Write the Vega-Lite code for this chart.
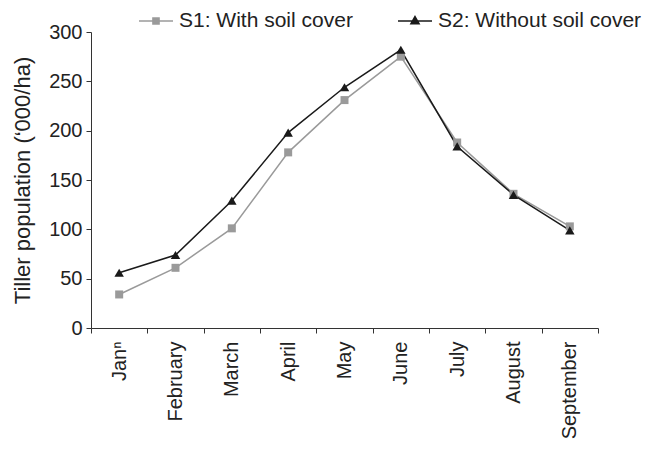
{
  "$schema": "https://vega.github.io/schema/vega-lite/v6.json",
  "width": 507,
  "height": 296,
  "autosize": "none",
  "padding": {"left": 91, "top": 32, "right": 57, "bottom": 123},
  "config": {
    "font": "Liberation Sans",
    "view": {"stroke": null},
    "axis": {
      "labelFont": "Liberation Sans",
      "labelFontSize": 20,
      "labelColor": "#222222",
      "titleFont": "Liberation Sans",
      "titleFontSize": 22,
      "titleFontWeight": "normal",
      "titleColor": "#222222",
      "domainColor": "#333333",
      "tickColor": "#333333",
      "grid": false
    }
  },
  "data": {
    "values": [
      {"month": "Janⁿ", "series": "S1: With soil cover", "value": 34},
      {"month": "February", "series": "S1: With soil cover", "value": 61},
      {"month": "March", "series": "S1: With soil cover", "value": 101},
      {"month": "April", "series": "S1: With soil cover", "value": 178},
      {"month": "May", "series": "S1: With soil cover", "value": 231},
      {"month": "June", "series": "S1: With soil cover", "value": 275},
      {"month": "July", "series": "S1: With soil cover", "value": 188},
      {"month": "August", "series": "S1: With soil cover", "value": 136},
      {"month": "September", "series": "S1: With soil cover", "value": 103},
      {"month": "Janⁿ", "series": "S2: Without soil cover", "value": 56},
      {"month": "February", "series": "S2: Without soil cover", "value": 74},
      {"month": "March", "series": "S2: Without soil cover", "value": 129},
      {"month": "April", "series": "S2: Without soil cover", "value": 198},
      {"month": "May", "series": "S2: Without soil cover", "value": 244},
      {"month": "June", "series": "S2: Without soil cover", "value": 282},
      {"month": "July", "series": "S2: Without soil cover", "value": 184},
      {"month": "August", "series": "S2: Without soil cover", "value": 135},
      {"month": "September", "series": "S2: Without soil cover", "value": 99}
    ]
  },
  "encoding": {
    "x": {
      "field": "month",
      "type": "nominal",
      "sort": ["Janⁿ", "February", "March", "April", "May", "June", "July", "August", "September"],
      "scale": {"type": "band", "paddingInner": 0, "paddingOuter": 0},
      "axis": {
        "title": null,
        "labelAngle": -90,
        "labelAlign": "right",
        "labelBaseline": "middle",
        "tickBand": "extent",
        "tickSize": 5,
        "labelPadding": 8
      }
    },
    "y": {
      "field": "value",
      "type": "quantitative",
      "scale": {"domain": [0, 300], "nice": false},
      "axis": {
        "values": [0, 50, 100, 150, 200, 250, 300],
        "title": "Tiller population (‘000/ha)",
        "tickSize": 5,
        "labelPadding": 4,
        "titlePadding": 14
      }
    },
    "color": {
      "field": "series",
      "type": "nominal",
      "scale": {"domain": ["S1: With soil cover", "S2: Without soil cover"], "range": ["#9a9a9a", "#1a1a1a"]},
      "legend": {
        "title": null,
        "orient": "none",
        "direction": "horizontal",
        "legendX": 47,
        "legendY": -29,
        "padding": 0,
        "symbolSize": 1156,
        "symbolStrokeWidth": 1.5,
        "labelFontSize": 21,
        "labelFont": "Liberation Sans",
        "labelColor": "#222222",
        "labelLimit": 400,
        "labelOffset": 5,
        "columnPadding": 42,
        "encode": {
          "symbols": {
            "update": {
              "shape": {"signal": "datum.value === 'S1: With soil cover' ? 'M-1,0H1M-0.18,-0.18H0.18V0.18H-0.18Z' : 'M-1,0H1M0,-0.26L0.24,0.16H-0.24Z'"},
              "fill": {"signal": "datum.value === 'S1: With soil cover' ? '#9a9a9a' : '#1a1a1a'"},
              "stroke": {"signal": "datum.value === 'S1: With soil cover' ? '#9a9a9a' : '#1a1a1a'"},
              "fillOpacity": {"value": 1},
              "strokeWidth": {"value": 1.5}
            }
          }
        }
      }
    }
  },
  "layer": [
    {"mark": {"type": "line", "strokeWidth": 1.5}},
    {
      "transform": [{"filter": "datum.series === 'S1: With soil cover'"}],
      "mark": {"type": "point", "shape": "square", "filled": true, "size": 64, "opacity": 1}
    },
    {
      "transform": [{"filter": "datum.series === 'S2: Without soil cover'"}],
      "mark": {"type": "point", "shape": "triangle-up", "filled": true, "size": 90, "opacity": 1}
    }
  ]
}
